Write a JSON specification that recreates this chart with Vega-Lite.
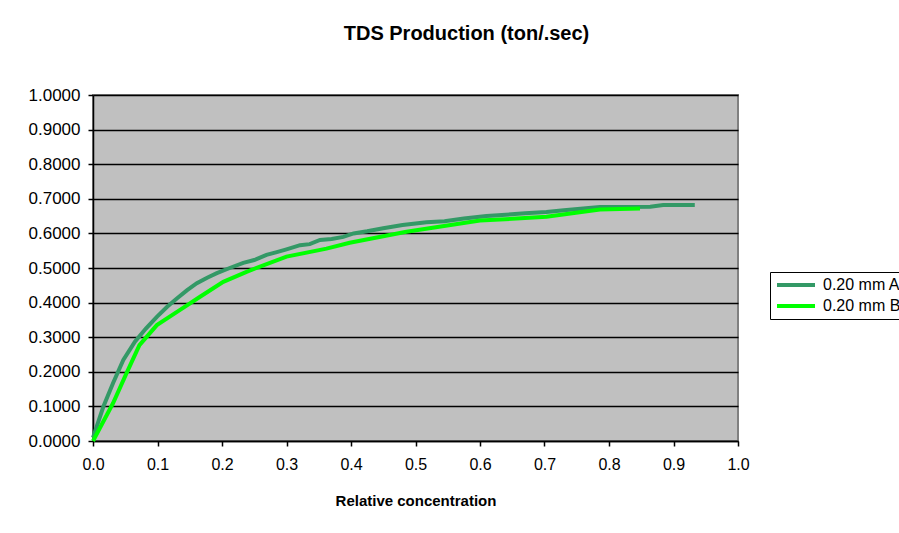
{
  "$schema": "https://vega.github.io/schema/vega-lite/v6.json",
  "width": 645,
  "height": 346,
  "autosize": "none",
  "padding": {"left": 93, "top": 95, "right": 161, "bottom": 92},
  "background": "white",
  "title": {
    "text": "TDS Production (ton/.sec)",
    "font": "Liberation Sans",
    "fontSize": 20,
    "fontWeight": "bold",
    "color": "black",
    "anchor": "middle",
    "dx": 51,
    "offset": 42
  },
  "data": {
    "values": [
      {"series": "0.20 mm A", "conc": 0.000, "tds": 0.010},
      {"series": "0.20 mm A", "conc": 0.016, "tds": 0.099},
      {"series": "0.20 mm A", "conc": 0.031, "tds": 0.167},
      {"series": "0.20 mm A", "conc": 0.047, "tds": 0.234},
      {"series": "0.20 mm A", "conc": 0.065, "tds": 0.287},
      {"series": "0.20 mm A", "conc": 0.082, "tds": 0.325},
      {"series": "0.20 mm A", "conc": 0.099, "tds": 0.359},
      {"series": "0.20 mm A", "conc": 0.115, "tds": 0.388},
      {"series": "0.20 mm A", "conc": 0.130, "tds": 0.412},
      {"series": "0.20 mm A", "conc": 0.146, "tds": 0.436},
      {"series": "0.20 mm A", "conc": 0.161, "tds": 0.456},
      {"series": "0.20 mm A", "conc": 0.177, "tds": 0.472},
      {"series": "0.20 mm A", "conc": 0.192, "tds": 0.485},
      {"series": "0.20 mm A", "conc": 0.212, "tds": 0.500},
      {"series": "0.20 mm A", "conc": 0.233, "tds": 0.515},
      {"series": "0.20 mm A", "conc": 0.250, "tds": 0.523},
      {"series": "0.20 mm A", "conc": 0.269, "tds": 0.538},
      {"series": "0.20 mm A", "conc": 0.285, "tds": 0.546},
      {"series": "0.20 mm A", "conc": 0.300, "tds": 0.554},
      {"series": "0.20 mm A", "conc": 0.321, "tds": 0.566},
      {"series": "0.20 mm A", "conc": 0.336, "tds": 0.569},
      {"series": "0.20 mm A", "conc": 0.352, "tds": 0.581},
      {"series": "0.20 mm A", "conc": 0.370, "tds": 0.584},
      {"series": "0.20 mm A", "conc": 0.388, "tds": 0.590},
      {"series": "0.20 mm A", "conc": 0.404, "tds": 0.600},
      {"series": "0.20 mm A", "conc": 0.425, "tds": 0.606},
      {"series": "0.20 mm A", "conc": 0.450, "tds": 0.615},
      {"series": "0.20 mm A", "conc": 0.480, "tds": 0.624},
      {"series": "0.20 mm A", "conc": 0.517, "tds": 0.632},
      {"series": "0.20 mm A", "conc": 0.545, "tds": 0.635},
      {"series": "0.20 mm A", "conc": 0.575, "tds": 0.643},
      {"series": "0.20 mm A", "conc": 0.610, "tds": 0.650},
      {"series": "0.20 mm A", "conc": 0.640, "tds": 0.654},
      {"series": "0.20 mm A", "conc": 0.670, "tds": 0.658},
      {"series": "0.20 mm A", "conc": 0.703, "tds": 0.662},
      {"series": "0.20 mm A", "conc": 0.730, "tds": 0.667},
      {"series": "0.20 mm A", "conc": 0.760, "tds": 0.672},
      {"series": "0.20 mm A", "conc": 0.786, "tds": 0.676},
      {"series": "0.20 mm A", "conc": 0.820, "tds": 0.676},
      {"series": "0.20 mm A", "conc": 0.864, "tds": 0.677},
      {"series": "0.20 mm A", "conc": 0.884, "tds": 0.682},
      {"series": "0.20 mm A", "conc": 0.933, "tds": 0.682},
      {"series": "0.20 mm B", "conc": 0.000, "tds": 0.000},
      {"series": "0.20 mm B", "conc": 0.031, "tds": 0.109},
      {"series": "0.20 mm B", "conc": 0.052, "tds": 0.196},
      {"series": "0.20 mm B", "conc": 0.072, "tds": 0.277},
      {"series": "0.20 mm B", "conc": 0.099, "tds": 0.335},
      {"series": "0.20 mm B", "conc": 0.135, "tds": 0.379},
      {"series": "0.20 mm B", "conc": 0.166, "tds": 0.417},
      {"series": "0.20 mm B", "conc": 0.202, "tds": 0.460},
      {"series": "0.20 mm B", "conc": 0.238, "tds": 0.489},
      {"series": "0.20 mm B", "conc": 0.300, "tds": 0.533},
      {"series": "0.20 mm B", "conc": 0.362, "tds": 0.556},
      {"series": "0.20 mm B", "conc": 0.398, "tds": 0.573},
      {"series": "0.20 mm B", "conc": 0.486, "tds": 0.605},
      {"series": "0.20 mm B", "conc": 0.600, "tds": 0.637},
      {"series": "0.20 mm B", "conc": 0.703, "tds": 0.648},
      {"series": "0.20 mm B", "conc": 0.786, "tds": 0.669},
      {"series": "0.20 mm B", "conc": 0.848, "tds": 0.672}
    ]
  },
  "mark": {"type": "line", "strokeWidth": 4, "interpolate": "linear"},
  "encoding": {
    "x": {
      "field": "conc",
      "type": "quantitative",
      "scale": {"domain": [0, 1], "nice": false, "zero": false},
      "axis": {
        "values": [0, 0.1, 0.2, 0.3, 0.4, 0.5, 0.6, 0.7, 0.8, 0.9, 1.0],
        "format": ".1f",
        "grid": false,
        "domainColor": "black",
        "domainWidth": 1.5,
        "tickColor": "black",
        "tickWidth": 1.5,
        "tickSize": 5,
        "labelFont": "Liberation Sans",
        "labelFontSize": 16,
        "labelColor": "black",
        "labelPadding": 10,
        "labelFlush": false,
        "title": "Relative concentration",
        "titleFont": "Liberation Sans",
        "titleFontSize": 15,
        "titleFontWeight": "bold",
        "titleColor": "black",
        "titlePadding": 21
      }
    },
    "y": {
      "field": "tds",
      "type": "quantitative",
      "scale": {"domain": [0, 1], "nice": false},
      "axis": {
        "values": [0, 0.1, 0.2, 0.3, 0.4, 0.5, 0.6, 0.7, 0.8, 0.9, 1.0],
        "format": ".4f",
        "grid": true,
        "gridColor": "black",
        "gridWidth": 1.5,
        "gridOpacity": 1,
        "domainColor": "black",
        "domainWidth": 1.5,
        "tickColor": "black",
        "tickWidth": 1.5,
        "tickSize": 5,
        "labelFont": "Liberation Sans",
        "labelFontSize": 17,
        "labelColor": "black",
        "labelPadding": 8,
        "labelFlush": false,
        "title": null
      }
    },
    "color": {
      "field": "series",
      "type": "nominal",
      "scale": {"domain": ["0.20 mm A", "0.20 mm B"], "range": ["#339966", "#00FF00"]},
      "legend": {
        "orient": "none",
        "legendX": 677,
        "legendY": 177,
        "title": null,
        "strokeColor": "black",
        "fillColor": "white",
        "padding": 5,
        "symbolType": "stroke",
        "symbolSize": 1444,
        "symbolStrokeWidth": 4,
        "labelFont": "Liberation Sans",
        "labelFontSize": 16,
        "labelColor": "black",
        "labelLimit": 300,
        "labelOffset": 6,
        "rowPadding": 5,
        "clipHeight": 16
      }
    }
  },
  "config": {
    "view": {"fill": "#C0C0C0", "stroke": "#808080", "strokeWidth": 2}
  }
}
